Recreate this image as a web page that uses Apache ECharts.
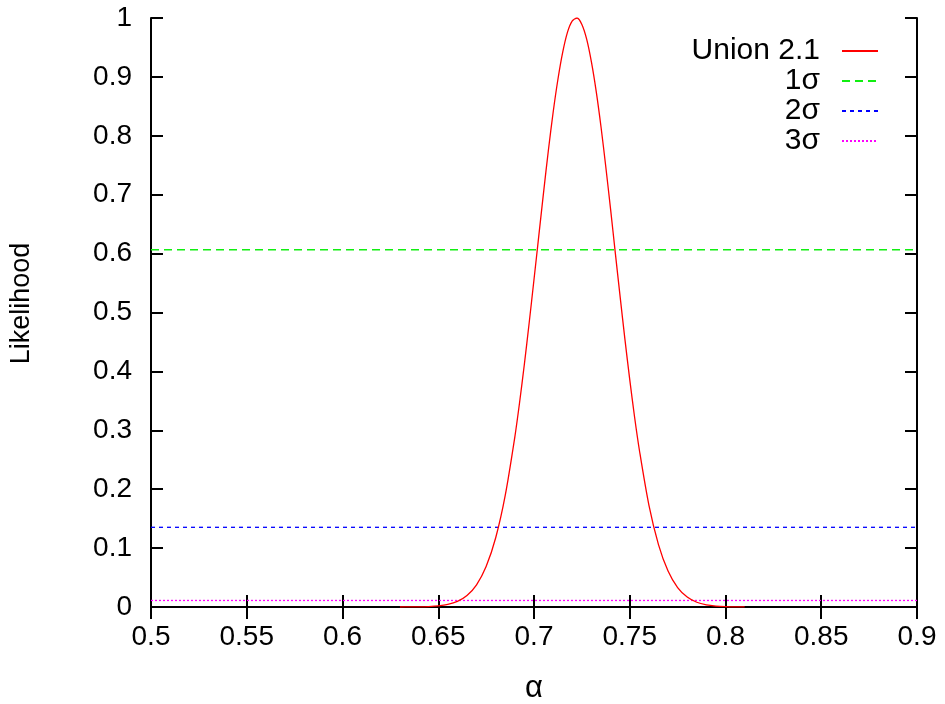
<!DOCTYPE html>
<html>
<head>
<meta charset="utf-8">
<script src="https://cdn.jsdelivr.net/npm/echarts@6/dist/echarts.min.js"></script>
<style>
  html, body { margin: 0; padding: 0; background: #fff; overflow: hidden; }
  #chart { width: 945px; height: 704px; }
</style>
</head>
<body>
<div id="chart"></div>
<script>
// Likelihood of alpha (Union 2.1) sampled along the alpha axis
const alpha = [0.63, 0.635, 0.64, 0.645, 0.65, 0.655, 0.66, 0.665, 0.67, 0.675,
  0.68, 0.685, 0.69, 0.6925, 0.695, 0.6975, 0.70, 0.7025, 0.705, 0.7075,
  0.71, 0.7125, 0.715, 0.7175, 0.72, 0.7225, 0.725, 0.7275, 0.73, 0.7325,
  0.735, 0.7375, 0.74, 0.7425, 0.745, 0.7475, 0.75, 0.7525, 0.755, 0.76,
  0.765, 0.77, 0.775, 0.78, 0.785, 0.79, 0.795, 0.80, 0.805, 0.81];
const likelihood = [0.0000, 0.0001, 0.0003, 0.0008, 0.0019, 0.0043, 0.0094, 0.0194, 0.0376, 0.0686,
  0.1176, 0.190, 0.289, 0.348, 0.413, 0.483, 0.556, 0.630, 0.704, 0.775,
  0.840, 0.896, 0.942, 0.976, 0.995, 1.000, 0.989, 0.964, 0.925, 0.875,
  0.815, 0.747, 0.675, 0.600, 0.526, 0.454, 0.386, 0.323, 0.267, 0.173,
  0.106, 0.061, 0.033, 0.0169, 0.0081, 0.0037, 0.0016, 0.0006, 0.0002, 0.0001];

// Confidence levels drawn as horizontal reference lines
const levelNames = ['1σ', '2σ', '3σ'];
const levelValues = [0.6065, 0.1353, 0.0111];
const levelColors = ['#11ee11', '#0000ff', '#ff00ff'];
const levelDash = [[8, 5], [4, 4], [2, 2]];

const xRange = [0.5, 0.9];
const FONT = 'Liberation Sans, Arial, sans-serif';
const FS = 28;
const LEGEND_FS = 30;

const chart = echarts.init(document.getElementById('chart'), null, { renderer: 'canvas' });

const axisLine = { show: true, lineStyle: { color: '#000', width: 2 } };
const tick = { show: true, inside: true, length: 12, lineStyle: { color: '#000', width: 2 } };

const series = [{
  name: 'Union 2.1',
  type: 'line',
  data: alpha.map((a, i) => [a, likelihood[i]]),
  smooth: 0.3,
  symbol: 'none',
  lineStyle: { color: '#ff0000', width: 1.3 },
  itemStyle: { color: '#ff0000' },
  z: 3
}];
levelNames.forEach((n, i) => {
  series.push({
    name: n,
    type: 'line',
    data: [[xRange[0], levelValues[i]], [xRange[1], levelValues[i]]],
    symbol: 'none',
    lineStyle: { color: levelColors[i], width: 1.3, type: levelDash[i] },
    itemStyle: { color: levelColors[i] },
    z: 2
  });
});

chart.setOption({
  animation: false,
  backgroundColor: '#fff',
  grid: { left: 151, right: 28, top: 18, bottom: 97, containLabel: false, outerBoundsMode: 'none' },
  legend: {
    show: true,
    orient: 'vertical',
    align: 'right',
    right: 61,
    top: 31,
    itemWidth: 36,
    itemHeight: 14,
    itemGap: 0,
    itemStyle: { opacity: 0 },
    data: ['Union 2.1'].concat(levelNames),
    formatter: '{a|{name}}',
    textStyle: {
      color: '#000',
      fontFamily: FONT,
      fontSize: LEGEND_FS,
      rich: {
        a: { width: 150, align: 'right', fontFamily: FONT, fontSize: LEGEND_FS, lineHeight: 31.7, padding: [0, 17, 0, 0] }
      }
    },
    inactiveColor: '#000'
  },
  xAxis: [{
    type: 'value',
    min: 0.5, max: 0.9, interval: 0.05,
    position: 'bottom',
    name: 'α',
    nameLocation: 'middle',
    nameGap: 66,
    nameTextStyle: { color: '#000', fontFamily: FONT, fontSize: 31 },
    axisLine: axisLine,
    axisTick: tick,
    splitLine: { show: false },
    axisLabel: { color: '#000', fontFamily: FONT, fontSize: FS, margin: 16 }
  }, {
    type: 'value',
    min: 0.5, max: 0.9, interval: 0.05,
    position: 'top',
    axisLine: axisLine,
    axisTick: tick,
    splitLine: { show: false },
    axisLabel: { show: false }
  }],
  yAxis: [{
    type: 'value',
    min: 0, max: 1, interval: 0.1,
    position: 'left',
    name: 'Likelihood',
    nameLocation: 'middle',
    nameRotate: 90,
    nameGap: 116,
    nameTextStyle: { color: '#000', fontFamily: FONT, fontSize: 27, padding: [0, 0, 0, 18] },
    axisLine: axisLine,
    axisTick: tick,
    splitLine: { show: false },
    axisLabel: { color: '#000', fontFamily: FONT, fontSize: FS, margin: 19 }
  }, {
    type: 'value',
    min: 0, max: 1, interval: 0.1,
    position: 'right',
    axisLine: axisLine,
    axisTick: tick,
    splitLine: { show: false },
    axisLabel: { show: false }
  }],
  series: series
});
</script>
</body>
</html>
